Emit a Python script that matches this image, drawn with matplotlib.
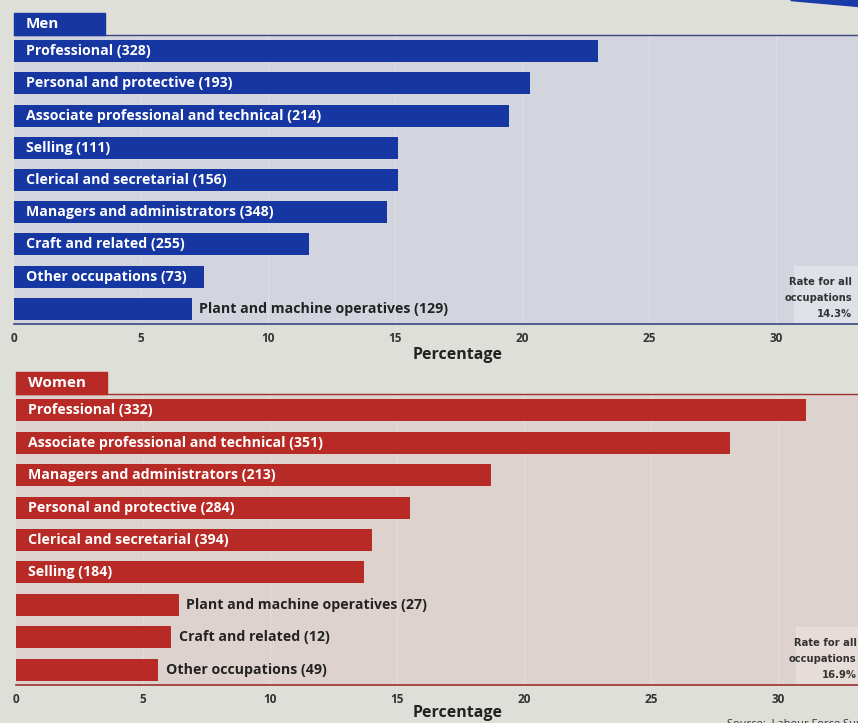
import matplotlib.pyplot as plt
from matplotlib.patches import Rectangle, Polygon

plt.rcParams['font.family'] = ['Open Sans', 'DejaVu Sans']

# occupation percentages, with number of cases in brackets
men_labels = ["Professional", "Personal and protective",
              "Associate professional and technical", "Selling",
              "Clerical and secretarial", "Managers and administrators",
              "Craft and related", "Other occupations",
              "Plant and machine operatives"]
men_counts = [328, 193, 214, 111, 156, 348, 255, 73, 129]
men_pct = [23.0, 20.3, 19.5, 15.1, 15.1, 14.7, 11.6, 7.5, 7.0]
men_rate = 14.3

women_labels = ["Professional", "Associate professional and technical",
                "Managers and administrators", "Personal and protective",
                "Clerical and secretarial", "Selling",
                "Plant and machine operatives", "Craft and related",
                "Other occupations"]
women_counts = [332, 351, 213, 284, 394, 184, 27, 12, 49]
women_pct = [31.1, 28.1, 18.7, 15.5, 14.0, 13.7, 6.4, 6.1, 5.6]
women_rate = 16.9

ticks = [0, 5, 10, 15, 20, 25, 30]

W, H = 858, 723
PX_PER_UNIT = 25.4
page_bg = '#dedfd9'


def fbox(x0, y0, x1, y1):
    # pixel box -> figure fraction [left, bottom, width, height]
    return [x0 / W, 1 - y1 / H, (x1 - x0) / W, (y1 - y0) / H]


def draw_panel(fig, left, top, bottom, labels, counts, pct, rate, title,
               bar_col, edge_col, panel_col, box_col, xlab_y, rate_x):
    right = W
    ax = fig.add_axes(fbox(left, top, right, bottom))
    ax.set_facecolor(panel_col)
    for x in ticks[1:]:
        ax.axvline(x, color='white', lw=0.8, alpha=0.25, zorder=0)
    y = list(range(len(pct)))
    ax.barh(y, pct, height=0.68, color=bar_col, zorder=2)
    for yi, lab, n, v in zip(y, labels, counts, pct):
        txt = f"{lab} ({n})"
        if v > 7.25:
            ax.text(0.47, yi, txt, color='white', fontsize=10.2,
                    fontweight='bold', va='center', ha='left', zorder=3)
        else:
            ax.text(v + 0.3, yi, txt, color='#222222', fontsize=10.2,
                    fontweight='bold', va='center', ha='left', zorder=3)
    ax.set_xticks(ticks)
    ax.set_xticklabels([str(t) for t in ticks], fontsize=8.5,
                       fontweight='bold', color='#333333')
    ax.tick_params(axis='x', length=0, pad=6)
    ax.set_yticks([])
    # limits after the ticks so the scale stays fixed
    ax.set_xlim(0, (right - left) / PX_PER_UNIT)
    ax.set_ylim(8.47, -0.5)
    for s in ['left', 'right']:
        ax.spines[s].set_visible(False)
    ax.spines['top'].set_color(edge_col)
    ax.spines['top'].set_linewidth(1.0)
    ax.spines['bottom'].set_color(edge_col)
    ax.spines['bottom'].set_linewidth(1.2)
    ax.set_xlabel('Percentage', fontsize=11.5, fontweight='bold',
                  color='#222222')
    ax.xaxis.set_label_coords((458 - left) / (right - left), xlab_y)

    # "rate for all occupations" box at the right end
    ax.add_patch(Rectangle((30.7, 6.67), 5, 1.8, color=box_col, zorder=1))
    ax.text(rate_x, 8.33, f"Rate for all\noccupations\n{rate}%",
            fontsize=7.2, fontweight='bold', color='#333333', ha='right',
            va='bottom', linespacing=1.75,
            family=['Liberation Sans Narrow', 'DejaVu Sans'], zorder=3)

    # title tab above the panel
    fig.patches.append(Rectangle((left / W, 1 - top / H), 91 / W, 22 / H,
                                 transform=fig.transFigure, color=bar_col))
    fig.text((left + 12) / W, 1 - (top - 11) / H, title, color='white',
             fontsize=11, fontweight='bold', va='center', ha='left')
    return ax


fig = plt.figure(figsize=(W / 100, H / 100), dpi=100)
fig.patch.set_facecolor(page_bg)

# page edge in the top right corner
fig.patches.append(Polygon([(790 / W, 1), (1, 1), (1, 1 - 6 / H)],
                           closed=True, transform=fig.transFigure,
                           color='#1a3aa8'))

draw_panel(fig, 14, 35, 324, men_labels, men_counts, men_pct, men_rate,
           'Men', '#1637a2', '#3b4680', '#d2d5dd', '#dfe1e8', -0.08, 33.0)
draw_panel(fig, 16, 394, 685, women_labels, women_counts, women_pct,
           women_rate, 'Women', '#b82a25', '#9c3330', '#ddd2ce', '#e6dcd8',
           -0.068, 33.1)

fig.text(727 / W, 1 - 727 / H, 'Source:  Labour Force Survey', fontsize=8,
         color='#333333', ha='left', va='baseline')

fig.savefig('out.png', dpi=100, facecolor=fig.get_facecolor())
